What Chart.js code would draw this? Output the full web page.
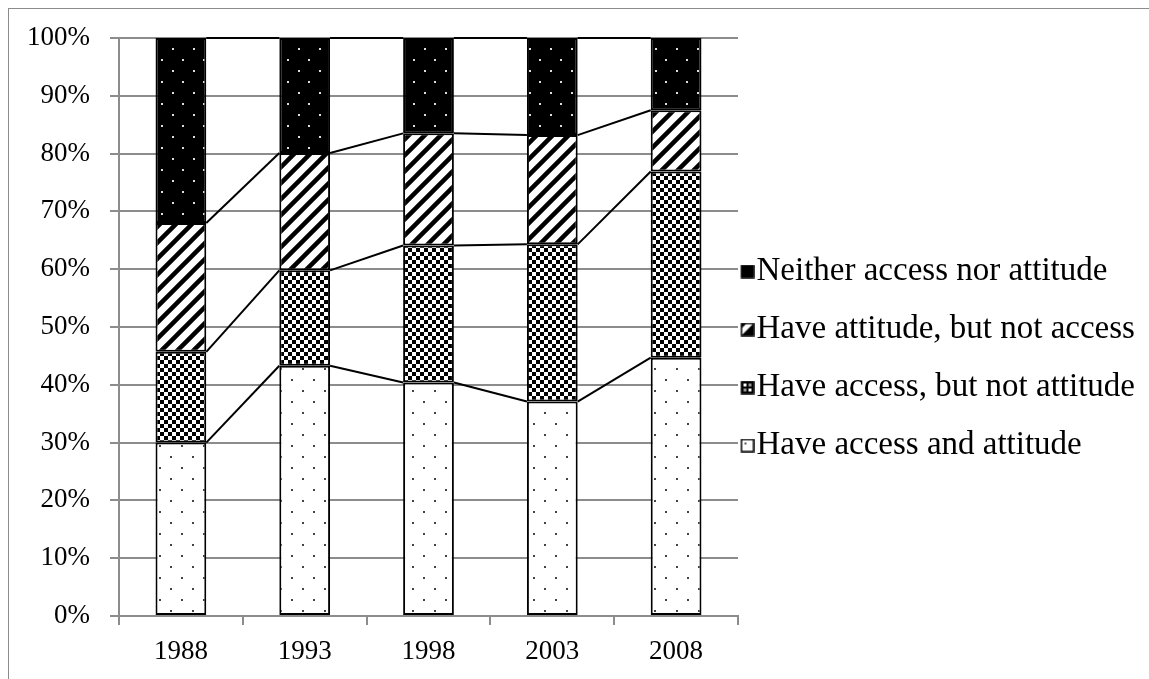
<!DOCTYPE html>
<html>
<head>
<meta charset="utf-8">
<script src="https://cdn.jsdelivr.net/npm/chart.js@4.4.0/dist/chart.umd.min.js"></script>
<style>
  body { margin: 0; background: #fff; overflow: hidden; }
  #frame { position: absolute; left: 8px; top: 8px; width: 1160px; height: 700px; border: 1px solid #8c8c8c; }
  #wrap { position: absolute; left: 0; top: 0; width: 1149px; height: 679px; }
</style>
</head>
<body>
<div id="frame"></div>
<div id="wrap"><canvas id="chart"></canvas></div>
<script>
// survey shares (percent)
var years = ['1988', '1993', '1998', '2003', '2008'];
var accessAndAttitude = [30.0, 43.3, 40.4, 37.1, 44.7];
var accessNotAttitude = [15.7, 16.5, 23.7, 27.2, 32.2];
var attitudeNotAccess = [22.3, 20.3, 19.4, 18.9, 10.6];
var neitherNor = [32.0, 19.9, 16.5, 16.8, 12.5];
var yTicks = [0, 10, 20, 30, 40, 50, 60, 70, 80, 90, 100];

var FONT = "'Liberation Serif', 'Times New Roman', serif";

function tile(w, h, draw) {
    var c = document.createElement('canvas');
    c.width = w; c.height = h;
    draw(c.getContext('2d'), w, h);
    return c;
}

// fill patterns for the bars
var ctx = document.getElementById('chart').getContext('2d');
var dotsLight = ctx.createPattern(tile(22, 22, function(g) {
    g.fillStyle = '#fff'; g.fillRect(0, 0, 22, 22);
    g.fillStyle = '#444';
    g.fillRect(5, 5, 2, 2); g.fillRect(16, 16, 2, 2);
}), 'repeat');
var checker = ctx.createPattern(tile(8, 8, function(g) {
    g.fillStyle = '#fff'; g.fillRect(0, 0, 8, 8);
    g.fillStyle = '#000';
    g.fillRect(0, 0, 4, 4); g.fillRect(4, 4, 4, 4);
}), 'repeat');
var stripes = ctx.createPattern(tile(16, 16, function(g) {
    g.fillStyle = '#fff'; g.fillRect(0, 0, 16, 16);
    g.strokeStyle = '#000'; g.lineWidth = 4.5;
    g.beginPath();
    g.moveTo(-4, 20); g.lineTo(20, -4);
    g.moveTo(-4, 4); g.lineTo(4, -4);
    g.moveTo(12, 20); g.lineTo(20, 12);
    g.stroke();
}), 'repeat');
var dotsDark = ctx.createPattern(tile(21, 22, function(g) {
    g.fillStyle = '#000'; g.fillRect(0, 0, 21, 22);
    g.fillStyle = '#ddd';
    g.fillRect(4, 4, 2, 2); g.fillRect(14, 15, 2, 2);
}), 'repeat');

// legend icons: square sits right of the image centre, just before the text
function icon(draw) {
    return tile(30, 14, function(g) {
        g.translate(16, 0);
        g.fillStyle = '#fff'; g.fillRect(0, 0, 14, 14);
        draw(g);
        g.strokeStyle = '#000'; g.lineWidth = 1.5;
        g.strokeRect(1, 1, 12, 12);
    });
}
var iconNeither = icon(function(g) { g.fillStyle = '#000'; g.fillRect(1, 1, 12, 12); });
var iconAttitude = icon(function(g) {
    g.fillStyle = '#000';
    g.beginPath(); g.moveTo(1, 13); g.lineTo(13, 1); g.lineTo(13, 13); g.closePath(); g.fill();
    g.beginPath(); g.moveTo(1, 1); g.lineTo(6, 1); g.lineTo(1, 6); g.closePath(); g.fill();
});
var iconAccess = icon(function(g) {
    g.fillStyle = '#000'; g.fillRect(1, 1, 12, 12);
    g.fillStyle = '#fff';
    g.fillRect(3, 3, 3, 3); g.fillRect(8, 8, 3, 3);
    g.fillStyle = '#999';
    g.fillRect(8, 3, 3, 3); g.fillRect(3, 8, 3, 3);
});
var iconBoth = icon(function(g) { g.fillStyle = '#555'; g.fillRect(4, 4, 2, 2); });

// Excel-style series lines joining the tops of each segment
var seriesLines = {
    id: 'seriesLines',
    afterDatasetsDraw: function(chart) {
        var c = chart.ctx;
        c.save();
        c.strokeStyle = '#000';
        c.lineWidth = 2;
        chart.data.datasets.forEach(function(ds, d) {
            var bars = chart.getDatasetMeta(d).data;
            for (var i = 0; i < bars.length - 1; i++) {
                var a = bars[i], b = bars[i + 1];
                c.beginPath();
                c.moveTo(a.x + a.width / 2, a.y);
                c.lineTo(b.x - b.width / 2, b.y);
                c.stroke();
            }
        });
        c.restore();
    }
};

// the legend padding also sets row spacing, so pull the items back toward the plot
// (only the left edge moves, so long labels are not clipped on the right)
var legendShift = {
    id: 'legendShift',
    afterLayout: function(chart) {
        chart.legend.left -= 24;
        chart.legend.width += 24;
    }
};

function bar(label, data, fill, pic) {
    return {
        label: label,
        data: data,
        backgroundColor: fill,
        borderColor: '#000',
        borderWidth: 2,
        borderSkipped: false,
        pointStyle: pic,
        barPercentage: 0.41,
        categoryPercentage: 1.0
    };
}

new Chart(ctx, {
    type: 'bar',
    data: {
        labels: years,
        datasets: [
            bar('Have access and attitude', accessAndAttitude, dotsLight, iconBoth),
            bar('Have access, but not attitude', accessNotAttitude, checker, iconAccess),
            bar('Have attitude, but not access', attitudeNotAccess, stripes, iconAttitude),
            bar('Neither access nor attitude', neitherNor, dotsDark, iconNeither)
        ]
    },
    options: {
        responsive: true,
        maintainAspectRatio: false,
        animation: false,
        layout: { padding: { top: 38, left: 10, right: 4, bottom: 0 } },
        plugins: {
            tooltip: { enabled: false },
            legend: {
                position: 'right',
                reverse: true,
                maxWidth: 407,
                labels: {
                    usePointStyle: true,
                    pointStyleWidth: 1,
                    boxHeight: 14,
                    color: '#000',
                    padding: 25,
                    font: { family: FONT, size: 33 }
                }
            }
        },
        scales: {
            x: {
                stacked: true,
                offset: true,
                border: { color: '#8c8c8c', width: 2 },
                grid: {
                    offset: true,
                    drawOnChartArea: false,
                    drawTicks: true,
                    tickLength: 9,
                    color: '#8c8c8c',
                    lineWidth: 2
                },
                ticks: { color: '#000', padding: 11, font: { family: FONT, size: 27 } },
                afterFit: function(s) { s.height = 679 - 616; }
            },
            y: {
                stacked: true,
                min: 0,
                max: 100,
                afterBuildTicks: function(s) {
                    s.ticks = yTicks.map(function(v) { return { value: v }; });
                },
                border: { color: '#8c8c8c', width: 2 },
                grid: { color: '#8c8c8c', lineWidth: 2, tickLength: 9 },
                ticks: {
                    color: '#000',
                    padding: 20,
                    font: { family: FONT, size: 27 },
                    callback: function(v) { return v + '%'; }
                },
                afterFit: function(s) { s.width = 119 - 10; }
            }
        }
    },
    plugins: [seriesLines, legendShift]
});
</script>
</body>
</html>
